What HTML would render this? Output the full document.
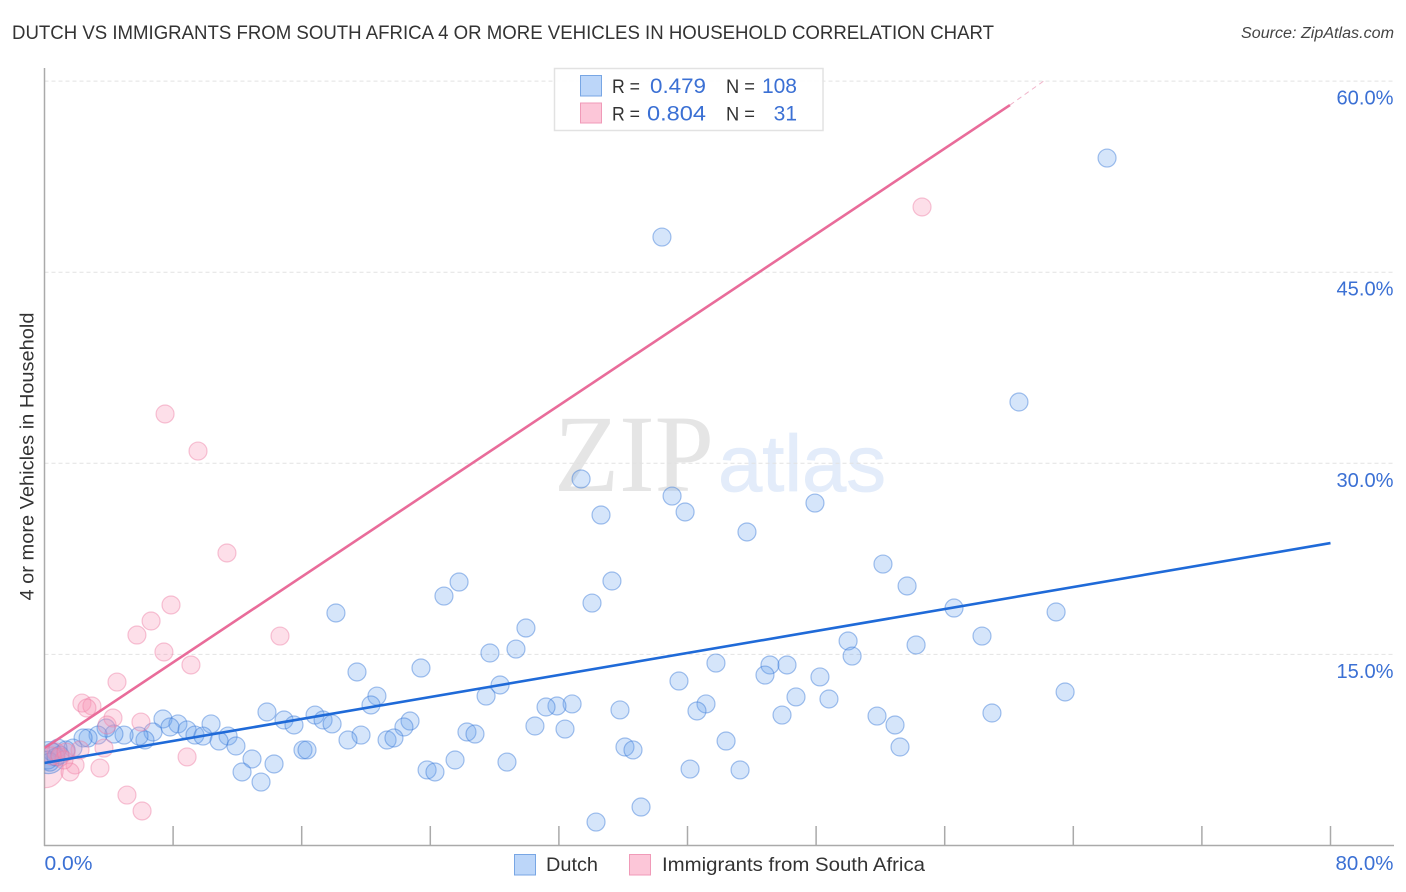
<!DOCTYPE html>
<html lang="en">
<head>
<meta charset="utf-8">
<title>Dutch vs Immigrants from South Africa correlation chart</title>
<style>
html,body{margin:0;padding:0;background:#fff;}
svg{display:block;}
text{font-family:"Liberation Sans",sans-serif;}
</style>
</head>
<body>
<svg id="chart" xmlns="http://www.w3.org/2000/svg" width="1406" height="892" viewBox="0 0 1406 892">
  <defs>
    <clipPath id="plot-clip"><rect x="44.5" y="60" width="1350" height="785.5"/></clipPath>
  </defs>
  <text x="12" y="39" font-size="19" fill="#333" textLength="982" lengthAdjust="spacingAndGlyphs">DUTCH VS IMMIGRANTS FROM SOUTH AFRICA 4 OR MORE VEHICLES IN HOUSEHOLD CORRELATION CHART</text>
  <text x="1241" y="38" font-size="15.5" font-style="italic" fill="#444" textLength="153" lengthAdjust="spacingAndGlyphs">Source: ZipAtlas.com</text>

  <g>
    <text x="554" y="491" font-size="110" fill="#e5e5e5" style="font-family:'Liberation Serif',serif" textLength="160" lengthAdjust="spacingAndGlyphs">ZIP</text>
    <text x="718" y="491" font-size="80" fill="#e3ecfa" stroke="#e3ecfa" stroke-width="0.8" textLength="168" lengthAdjust="spacingAndGlyphs">atlas</text>
  </g>

  <g id="grid"></g>
  <g id="axes"></g>
  <g id="series" clip-path="url(#plot-clip)"></g>
  <g id="labels"></g>

  <text transform="translate(33.5,456.5) rotate(-90)" font-size="19" fill="#333" text-anchor="middle" textLength="288" lengthAdjust="spacingAndGlyphs">4 or more Vehicles in Household</text>

  <g>
    <rect x="554.5" y="68.5" width="268.5" height="62" fill="#fff" fill-opacity="0.9" stroke="#e2e2e2" stroke-width="1.5"/>
    <rect x="580.5" y="75.5" width="21" height="20.5" fill="#bcd6f9" stroke="#78a6e4" stroke-width="1"/>
    <rect x="580.5" y="103" width="21" height="20" fill="#fcc6d8" stroke="#f09ab8" stroke-width="1"/>
    <g font-size="19.5">
      <text x="612" y="93" fill="#333" textLength="28" lengthAdjust="spacingAndGlyphs">R =</text>
      <text x="650" y="93" fill="#3b70d4" font-size="21" textLength="56" lengthAdjust="spacingAndGlyphs">0.479</text>
      <text x="726" y="93" fill="#333" textLength="29" lengthAdjust="spacingAndGlyphs">N =</text>
      <text x="797" y="93" fill="#3b70d4" font-size="21" text-anchor="end">108</text>
      <text x="612" y="120.5" fill="#333" textLength="28" lengthAdjust="spacingAndGlyphs">R =</text>
      <text x="647" y="120.5" fill="#3b70d4" font-size="21" textLength="59" lengthAdjust="spacingAndGlyphs">0.804</text>
      <text x="726" y="120.5" fill="#333" textLength="29" lengthAdjust="spacingAndGlyphs">N =</text>
      <text x="797" y="120.5" fill="#3b70d4" font-size="21" text-anchor="end">31</text>
    </g>
  </g>

  <g>
    <rect x="514.5" y="854.5" width="21" height="20.5" fill="#bcd6f9" stroke="#78a6e4" stroke-width="1"/>
    <text x="546" y="871" font-size="19.5" fill="#333" textLength="52" lengthAdjust="spacingAndGlyphs">Dutch</text>
    <rect x="629.5" y="854.5" width="21" height="20.5" fill="#fcc6d8" stroke="#f09ab8" stroke-width="1"/>
    <text x="662" y="871" font-size="19.5" fill="#333" textLength="263" lengthAdjust="spacingAndGlyphs">Immigrants from South Africa</text>
  </g>
</svg>
<script>
const xTickValues = [0, 8, 16, 24, 32, 40, 48, 56, 64, 72, 80];
const yTickValues = [15, 30, 45, 60];
const yTickLabels = ["15.0%", "30.0%", "45.0%", "60.0%"];
const xEdgeValues = [0, 80];
const xEdgeLabels = ["0.0%", "80.0%"];

const dutchX = [66.10,38.41,60.62,33.38,39.04,34.62,39.85,47.93,43.70,52.16,53.66,35.30,25.79,24.85,34.06,18.13,29.95,56.58,62.93,58.32,49.99,50.24,54.22,27.71,29.33,19.44,23.42,41.77,45.13,44.82,46.19,48.24,39.47,28.34,27.47,20.68,63.49,20.31,46.75,48.80,41.15,40.59,32.82,31.88,31.20,35.80,45.88,58.94,51.79,52.91,13.84,7.37,14.90,16.83,15.52,17.33,17.89,10.36,8.30,7.81,8.87,9.36,9.86,11.42,22.74,22.36,30.51,32.38,26.28,26.78,19.69,18.88,21.31,21.74,42.40,36.11,36.61,53.22,16.08,16.33,11.91,10.86,6.75,6.25,5.88,4.95,4.32,3.83,3.33,2.71,2.40,1.77,1.34,0.84,0.47,0.22,0.34,0.72,0.96,12.91,14.28,12.29,13.47,23.80,24.29,25.54,28.77,40.16,43.27,37.11,34.31];
const dutchY = [53.96,47.76,34.81,28.77,27.43,25.94,26.18,26.88,24.61,22.09,20.37,20.76,20.68,19.58,19.03,18.25,17.07,18.64,18.33,16.44,16.05,14.87,15.74,15.11,15.42,13.62,13.93,14.32,14.17,13.38,14.17,13.23,12.91,12.60,11.73,11.73,12.05,11.03,11.66,11.50,11.11,10.56,11.11,10.95,10.87,10.64,10.24,10.40,10.16,9.46,10.48,9.93,9.85,10.24,9.46,9.85,9.54,9.54,9.54,9.30,9.07,8.67,8.59,8.59,9.77,9.30,9.38,9.14,8.91,8.75,8.67,8.28,8.28,8.44,8.20,7.73,7.50,7.73,7.50,7.50,7.81,8.20,8.91,8.28,8.59,8.67,8.75,9.22,8.67,8.44,8.44,7.65,7.50,7.65,7.34,6.71,6.55,6.95,7.10,6.79,6.40,5.77,4.98,5.93,5.77,6.71,6.55,6.00,5.93,3.02,1.84];
const dutchDenseX = [0.25];
const dutchDenseY = [6.90];

const africaX = [54.59,7.50,9.55,11.35,7.87,6.63,5.75,14.65,7.43,9.11,4.51,2.33,2.95,2.64,4.26,6.00,3.89,3.70,8.87,3.45,1.90,1.59,2.21,5.13,6.07,0.72,0.96,1.21,0.47,1.34];
const africaY = [50.12,33.87,30.96,22.96,18.88,17.62,16.52,16.44,15.19,14.17,12.83,11.18,10.95,10.79,10.01,9.69,9.46,7.65,6.95,6.08,6.32,5.77,7.50,3.96,2.71,7.34,6.95,6.71,7.02,7.34];
const africaDenseX = [0.05];
const africaDenseY = [5.95];

const dutchTrendX = [0, 80];
const dutchTrendY = [6.48, 23.74];
const africaTrendX = [0, 60.06];
const africaTrendY = [7.65, 58.12];
const africaExtrapolationX = [60.06, 62.24];
const africaExtrapolationY = [58.12, 60.08];

const SVG_NS = "http://www.w3.org/2000/svg";
const xScale = v => 44.5 + v * 16.075;
const yScale = v => 845.5 - v * 12.74;

function make(tag, attrs, parent) {
  const el = document.createElementNS(SVG_NS, tag);
  for (const k in attrs) el.setAttribute(k, attrs[k]);
  parent.appendChild(el);
  return el;
}

const gridG = document.getElementById("grid");
const axesG = document.getElementById("axes");
const seriesG = document.getElementById("series");
const labelsG = document.getElementById("labels");

yTickValues.forEach(function (v) {
  const line = make("line", {x1: 44.5, x2: 1394, y1: yScale(v), y2: yScale(v), stroke: "#e2e2e2", "stroke-width": 1, "stroke-dasharray": "4 3"}, gridG);
  
  
});

const yAxisLine = make("line", {x1: 44.5, x2: 44.5, y1: 68, y2: 846, stroke: "#aaa", "stroke-width": 1.5}, axesG);


const xAxisLine = make("line", {x1: 44, x2: 1394, y1: 845.5, y2: 845.5, stroke: "#aaa", "stroke-width": 1.5}, axesG);


xTickValues.slice(1).forEach(function (v) {
  const tick = make("line", {x1: xScale(v), x2: xScale(v), y1: 826, y2: 845.5, stroke: "#aaa", "stroke-width": 1.5}, axesG);
  
  
});

function drawPoints(xs, ys, radius, fill, stroke, name) {
  xs.forEach(function (x, i) {
    const c = make("circle", {cx: xScale(x), cy: yScale(ys[i]), r: radius, fill: fill, stroke: stroke, "stroke-width": 1.2}, seriesG);
    
    
  });
}

const AFRICA_FILL = "rgba(247,150,182,0.3)";
const AFRICA_STROKE = "rgba(236,120,160,0.42)";
const DUTCH_FILL = "rgba(105,160,238,0.28)";
const DUTCH_STROKE = "rgba(55,120,215,0.45)";

drawPoints(africaDenseX, africaDenseY, 18, AFRICA_FILL, AFRICA_STROKE, "point-south-africa");
drawPoints(dutchDenseX, dutchDenseY, 16, DUTCH_FILL, DUTCH_STROKE, "point-dutch");
drawPoints(dutchX, dutchY, 9, DUTCH_FILL, DUTCH_STROKE, "point-dutch");
drawPoints(africaX, africaY, 9, AFRICA_FILL, AFRICA_STROKE, "point-south-africa");

const dutchTrend = make("line", {x1: xScale(dutchTrendX[0]), y1: yScale(dutchTrendY[0]), x2: xScale(dutchTrendX[1]), y2: yScale(dutchTrendY[1]), stroke: "#1f6ad8", "stroke-width": 2.6}, seriesG);


const africaTrend = make("line", {x1: xScale(africaTrendX[0]), y1: yScale(africaTrendY[0]), x2: xScale(africaTrendX[1]), y2: yScale(africaTrendY[1]), stroke: "#e96c9a", "stroke-width": 2.6}, seriesG);


const africaExt = make("line", {x1: xScale(africaExtrapolationX[0]), y1: yScale(africaExtrapolationY[0]), x2: xScale(africaExtrapolationX[1]), y2: yScale(africaExtrapolationY[1]), stroke: "#f0b4ca", "stroke-width": 1, "stroke-dasharray": "5 4"}, seriesG);



yTickValues.forEach(function (v, i) {
  const t = make("text", {x: 1393.5, y: yScale(v) + 23.5, "font-size": 20, fill: "#3b70d4", "text-anchor": "end", textLength: 57, lengthAdjust: "spacingAndGlyphs"}, labelsG);
  
  
  t.textContent = yTickLabels[i];
});
xEdgeValues.forEach(function (v, i) {
  const t = make("text", {x: i === 0 ? xScale(v) : 1393.5, y: 870, "font-size": 20, fill: "#3b70d4", "text-anchor": i === 0 ? "start" : "end", textLength: i === 0 ? 48 : 58, lengthAdjust: "spacingAndGlyphs"}, labelsG);
  
  
  t.textContent = xEdgeLabels[i];
});
</script>
</body>
</html>
